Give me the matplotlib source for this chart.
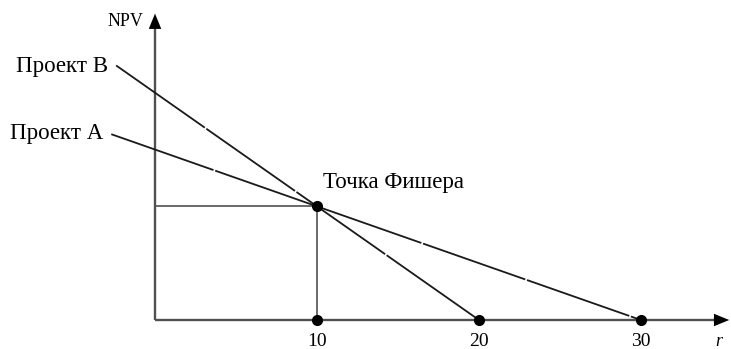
import matplotlib.pyplot as plt

plt.rcParams['font.family'] = ['Liberation Serif', 'DejaVu Serif']

# NPV profiles of two projects (arbitrary NPV units), straight lines down to their IRR
rate_b = [-2.4, 20]
npv_b = [112, 0]
rate_a = [-2.7, 30]
npv_a = [81.75, 0]

# Fisher point and IRR values marked on the r axis
fisher_rate = 10
fisher_npv = 50
irr_points = [10, 20, 30]
tick_labels = ['10', '20', '30']

fig = plt.figure(figsize=(7.31, 3.49), dpi=100)
ax = fig.add_axes([0, 0, 1, 1])
ax.set_xlim(-9.57, 35.56)
ax.set_ylim(-12.76, 140.8)
ax.axis('off')

axis_color = '#505050'
line_color = '#1a1a1a'

# coordinate axes with arrow heads
ax.plot([0, 34.6], [0, 0], color=axis_color, lw=1.7, solid_capstyle='butt')
ax.plot([0, 0], [0, 131], color=axis_color, lw=1.7, solid_capstyle='butt')
arrow = dict(arrowstyle='-|>,head_length=1.1,head_width=0.45',
             color='black', lw=0, shrinkA=0, shrinkB=0)
ax.annotate('', xy=(35.45, 0), xytext=(34.3, 0), arrowprops=arrow,
            annotation_clip=False)
ax.annotate('', xy=(0, 134.8), xytext=(0, 128), arrowprops=arrow,
            annotation_clip=False)

# guide lines to the Fisher point
ax.plot([0, fisher_rate], [fisher_npv, fisher_npv], color=axis_color, lw=1.2)
ax.plot([fisher_rate, fisher_rate], [0, fisher_npv], color=axis_color, lw=1.2)

# project lines
ax.plot(rate_b, npv_b, color=line_color, lw=1.3, dashes=(60, 1))
ax.plot(rate_a, npv_a, color=line_color, lw=1.3, dashes=(60, 1))

# points
ax.plot(irr_points, [0] * len(irr_points), 'o', color='black', ms=7)
ax.plot([fisher_rate], [fisher_npv], 'o', color='black', ms=7)

for x, lab in zip(irr_points, tick_labels):
    ax.text(x, -9.5, lab, ha='center', va='center', fontsize=14)
ax.text(34.8, -9.5, 'r', ha='center', va='center', fontsize=13, style='italic')
ax.text(-0.7, 131.5, 'NPV', ha='right', va='center', fontsize=13)

ax.text(rate_b[0] - 0.5, npv_b[0] - 0.5, 'Проект В', ha='right', va='center', fontsize=16.5)
ax.text(rate_a[0] - 0.5, npv_a[0] + 0.5, 'Проект А', ha='right', va='center', fontsize=16.5)
ax.text(fisher_rate + 0.4, fisher_npv + 10.5, 'Точка Фишера', ha='left', va='center', fontsize=16.5)

fig.savefig('out.png', dpi=100)
